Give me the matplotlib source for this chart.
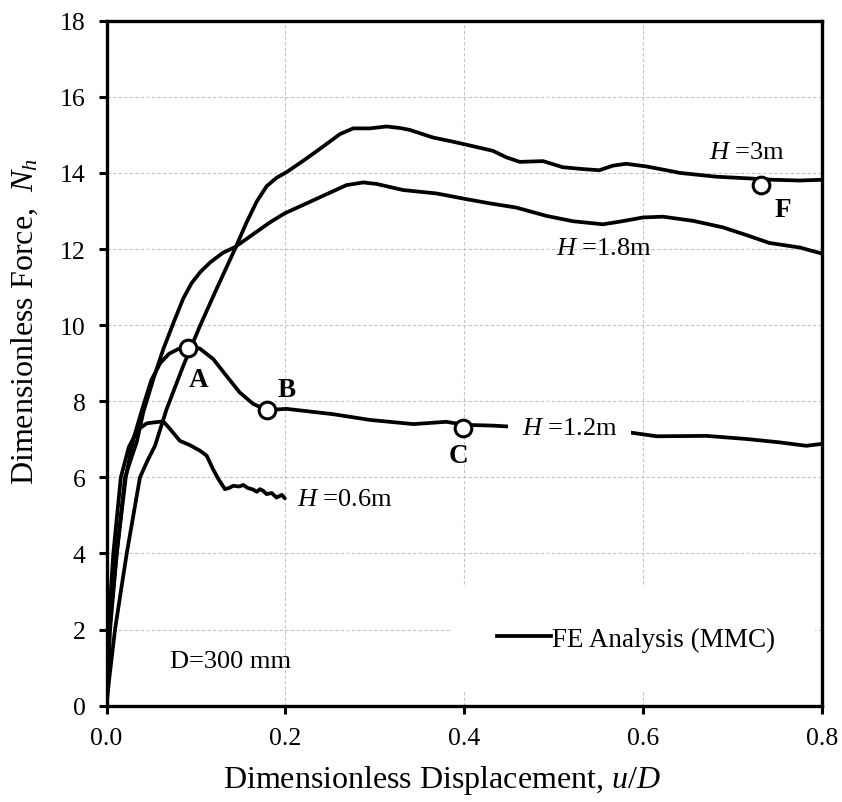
import matplotlib
matplotlib.use("Agg")
import matplotlib.pyplot as plt
from matplotlib.lines import Line2D
from matplotlib.patches import Rectangle

plt.rcParams['font.family'] = ['Liberation Serif', 'DejaVu Serif']
plt.rcParams['mathtext.fontset'] = 'custom'
plt.rcParams['mathtext.rm'] = 'Liberation Serif'
plt.rcParams['mathtext.it'] = 'Liberation Serif:italic'
plt.rcParams['mathtext.bf'] = 'Liberation Serif:bold'

# Load-displacement curves (dimensionless)
x_h06 = [0, 0.002, 0.0076, 0.016, 0.025, 0.035, 0.045, 0.055, 0.0635, 0.07, 0.082, 0.093,
         0.1045, 0.112, 0.119, 0.125, 0.1324, 0.137, 0.1417, 0.148, 0.153, 0.158, 0.164,
         0.168, 0.1715, 0.175, 0.179, 0.1846, 0.19, 0.196, 0.1994]
y_h06 = [0, 2.0, 4.0, 6.0, 6.8, 7.25, 7.42, 7.45, 7.47, 7.3, 6.96, 6.85,
         6.70, 6.57, 6.22, 5.96, 5.69, 5.72, 5.78, 5.76, 5.80, 5.72, 5.68,
         5.62, 5.69, 5.65, 5.56, 5.59, 5.47, 5.54, 5.45]

x_h12 = [0, 0.003, 0.0114, 0.0215, 0.03, 0.04, 0.05, 0.06, 0.07, 0.08, 0.0914, 0.1,
         0.1045, 0.1193, 0.134, 0.149, 0.164, 0.179, 0.2013, 0.2534, 0.2944, 0.343,
         0.38, 0.4, 0.432, 0.447, 0.585, 0.615, 0.6706, 0.715, 0.7525, 0.7823, 0.8]
y_h12 = [0, 2.0, 4.0, 6.0, 7.0, 7.8, 8.55, 9.0, 9.25, 9.37, 9.40, 9.42,
         9.38, 9.11, 8.67, 8.23, 7.93, 7.77, 7.80, 7.66, 7.51, 7.40,
         7.46, 7.38, 7.36, 7.34, 7.18, 7.08, 7.09, 7.01, 6.92, 6.83, 6.88]

x_h18 = [0, 0.004, 0.0114, 0.0207, 0.029, 0.0337, 0.0411, 0.0523, 0.0635, 0.075, 0.0858,
         0.095, 0.105, 0.116, 0.13, 0.1436, 0.164, 0.1827, 0.1994, 0.2237, 0.246,
         0.2684, 0.287, 0.302, 0.3316, 0.369, 0.4025, 0.4285, 0.458, 0.492, 0.5216,
         0.555, 0.574, 0.6, 0.622, 0.656, 0.689, 0.715, 0.741, 0.775, 0.8]
y_h18 = [0, 2.0, 4.0, 6.0, 6.6, 6.92, 7.71, 8.58, 9.37, 10.07, 10.7,
         11.1, 11.4, 11.65, 11.9, 12.05, 12.39, 12.70, 12.94, 13.20, 13.44,
         13.68, 13.75, 13.71, 13.55, 13.46, 13.31, 13.20, 13.09, 12.87, 12.73,
         12.65, 12.72, 12.83, 12.85, 12.74, 12.57, 12.37, 12.16, 12.04, 11.88]

x_h30 = [0, 0.003, 0.0095, 0.016, 0.0226, 0.03, 0.0374, 0.046, 0.0542, 0.0673, 0.0858,
         0.1045, 0.123, 0.1436, 0.1566, 0.168, 0.179, 0.19, 0.2013, 0.22, 0.2385, 0.261,
         0.2758, 0.2944, 0.313, 0.328, 0.339, 0.365, 0.3875, 0.41, 0.432, 0.447, 0.462,
         0.488, 0.51, 0.533, 0.551, 0.566, 0.581, 0.6036, 0.626, 0.641, 0.682, 0.715,
         0.745, 0.775, 0.8]
y_h30 = [0, 0.7, 2.0, 3.0, 4.0, 5.0, 6.0, 6.45, 6.83, 7.8, 8.93,
         9.98, 10.95, 12.0, 12.7, 13.25, 13.65, 13.87, 14.02, 14.32, 14.63, 15.02,
         15.17, 15.17, 15.22, 15.18, 15.13, 14.93, 14.82, 14.70, 14.58, 14.41, 14.29,
         14.31, 14.15, 14.10, 14.07, 14.19, 14.24, 14.17, 14.07, 14.00, 13.90, 13.86,
         13.82, 13.80, 13.82]

# Marked states on the curves
pt_labels = ['A', 'B', 'C', 'F']
pt_x = [0.0914, 0.179, 0.3987, 0.732]
pt_y = [9.40, 7.77, 7.31, 13.69]

x_ticks = [0.0, 0.2, 0.4, 0.6, 0.8]
y_ticks = [0, 2, 4, 6, 8, 10, 12, 14, 16, 18]

fig = plt.figure(figsize=(8.42, 8.03), dpi=100)
ax = fig.add_axes([0.1265, 0.1199, 0.8498, 0.8531])

ax.set_xlim(0, 0.8)
ax.set_ylim(0, 18)
ax.set_xticks(x_ticks)
ax.set_yticks(y_ticks)
ax.set_xticklabels([f"{v:.1f}" for v in x_ticks])
ax.set_yticklabels([str(v) for v in y_ticks])
ax.set_axisbelow(True)
ax.grid(True, color='#c4c4c4', linestyle=(0, (3, 2)), linewidth=0.8)

for s in ax.spines.values():
    s.set_linewidth(2.4)
ax.tick_params(direction='out', length=6, width=2.2, labelsize=18.5, pad=9)

lw = 2.7
for xs, ys in [(x_h06, y_h06), (x_h12, y_h12), (x_h18, y_h18), (x_h30, y_h30)]:
    ax.plot(xs, ys, color='black', lw=lw, solid_capstyle='round', zorder=3)

ax.plot(pt_x, pt_y, linestyle='none', marker='o', markersize=12,
        markerfacecolor='white', markeredgecolor='black', markeredgewidth=2.2, zorder=5)

lab_off = {'A': (0.012, -0.82), 'B': (0.0223, 0.55), 'C': (-0.005, -0.74), 'F': (0.024, -0.64)}
for name, px, py in zip(pt_labels, pt_x, pt_y):
    dx, dy = lab_off[name]
    ax.text(px + dx, py + dy, name, fontsize=19.5, fontweight='bold',
            ha='center', va='center', zorder=6)

hfs = 19
ax.text(0.674, 14.54, r"$H$ =3m", fontsize=hfs, ha='left', va='center', zorder=6)
ax.text(0.503, 12.04, r"$H$ =1.8m", fontsize=hfs, ha='left', va='center', zorder=6)
ax.text(0.464, 7.31, r"$H$ =1.2m", fontsize=hfs, ha='left', va='center', zorder=6,
        bbox=dict(boxstyle='square,pad=0.5', facecolor='white', edgecolor='none'))
ax.text(0.2125, 5.43, r"$H$ =0.6m", fontsize=hfs, ha='left', va='center', zorder=6)

ax.text(0.139, 1.18, "D=300 mm", fontsize=19, ha='center', va='center', zorder=6)

# legend sits on a white panel that masks the grid
ax.add_patch(Rectangle((0.384, 0.39), 0.408, 2.73, facecolor='white',
                       edgecolor='none', zorder=1.5))
handle = Line2D([], [], color='black', lw=lw)
ax.legend([handle], ["FE Analysis (MMC)"], loc='center left',
          bbox_to_anchor=(0.4365, 1.75), bbox_transform=ax.transData,
          frameon=False, fontsize=19.5, handlelength=2.0, handletextpad=0.05,
          borderpad=0, borderaxespad=0)

ax.set_xlabel(r"Dimensionless Displacement, $u$/$D$", fontsize=23)
ax.xaxis.set_label_coords(0.469, -0.083)
ax.set_ylabel(r"Dimensionless Force,  $N_h$", fontsize=23)
ax.yaxis.set_label_coords(-0.093, 0.5616)

fig.savefig("out.png", dpi=100)
